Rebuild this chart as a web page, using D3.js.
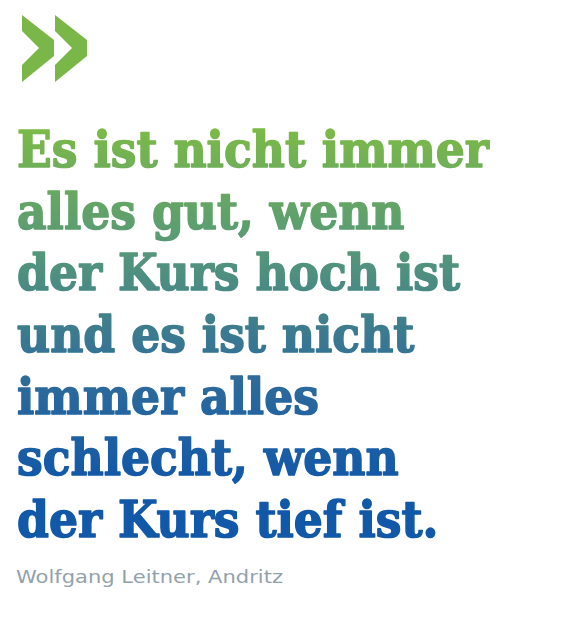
<!DOCTYPE html>
<html>
<head>
<meta charset="utf-8">
<script src="https://cdn.jsdelivr.net/npm/d3@7"></script>
<style>
  html, body { margin: 0; padding: 0; background: #fff; }
</style>
</head>
<body>
<div class="container"></div>
<script>
var quoteLines = [
  'Es ist nicht immer',
  'alles gut, wenn',
  'der Kurs hoch ist',
  'und es ist nicht',
  'immer alles',
  'schlecht, wenn',
  'der Kurs tief ist.'
];
var author = 'Wolfgang Leitner, Andritz';
var chevrons = [0, 1];

var w = 564;
var h = 626;

var svg = d3.select('.container')
  .append('svg')
  .attr('width', w)
  .attr('height', h);

/* gradient green -> blue going down the quote */
var grad = svg.append('defs')
  .append('linearGradient')
  .attr('id', 'quoteGrad')
  .attr('gradientUnits', 'userSpaceOnUse')
  .attr('x1', 0).attr('y1', 128)
  .attr('x2', 0).attr('y2', 480);
grad.append('stop').attr('offset', '0%').attr('stop-color', '#7cba47');
grad.append('stop').attr('offset', '35%').attr('stop-color', '#55977a');
grad.append('stop').attr('offset', '70%').attr('stop-color', '#2f6c9a');
grad.append('stop').attr('offset', '100%').attr('stop-color', '#1258a8');

/* chevrons */
var chevX = d3.scaleLinear().domain([0, 1]).range([22, 55]);
svg.selectAll('path.chev')
  .data(chevrons)
  .enter()
  .append('path')
  .attr('class', 'chev')
  .attr('fill', '#7ab648')
  .attr('d', function(d) {
    var x = chevX(d);
    return 'M' + x + ',15 L' + (x + 32) + ',40 L' + (x + 32) + ',56 L' + x + ',82 L' + x + ',65 L' + (x + 17) + ',48 L' + x + ',31 Z';
  });

/* quote text */
var lineY = d3.scaleLinear()
  .domain([0, quoteLines.length - 1])
  .range([167, 537]);

var quote = svg.append('g');
var texts = quote.selectAll('text')
  .data(quoteLines)
  .enter()
  .append('text')
  .attr('x', 0)
  .attr('y', function(d, i) { return lineY(i); })
  .attr('font-family', '"DejaVu Serif", serif')
  .attr('font-weight', 'bold')
  .attr('font-size', '51px')
  .attr('fill', 'url(#quoteGrad)')
  .attr('stroke', 'url(#quoteGrad)')
  .attr('stroke-width', 1.6)
  .attr('stroke-linejoin', 'round')
  .text(function(d) { return d; });

// squeeze horizontally so the first line spans like the original
var firstW = texts.nodes()[0].getComputedTextLength();
var sx = 472 / firstW;
quote.attr('transform', 'translate(17,0) scale(' + sx + ',1)');

/* attribution */
svg.append('text')
  .attr('x', 16)
  .attr('y', 583)
  .attr('font-family', '"DejaVu Sans", sans-serif')
  .attr('font-weight', 'normal')
  .attr('font-size', '17px')
  .attr('fill', '#93a1ac')
  .attr('textLength', 267)
  .attr('lengthAdjust', 'spacingAndGlyphs')
  .text(author);
</script>
</body>
</html>
